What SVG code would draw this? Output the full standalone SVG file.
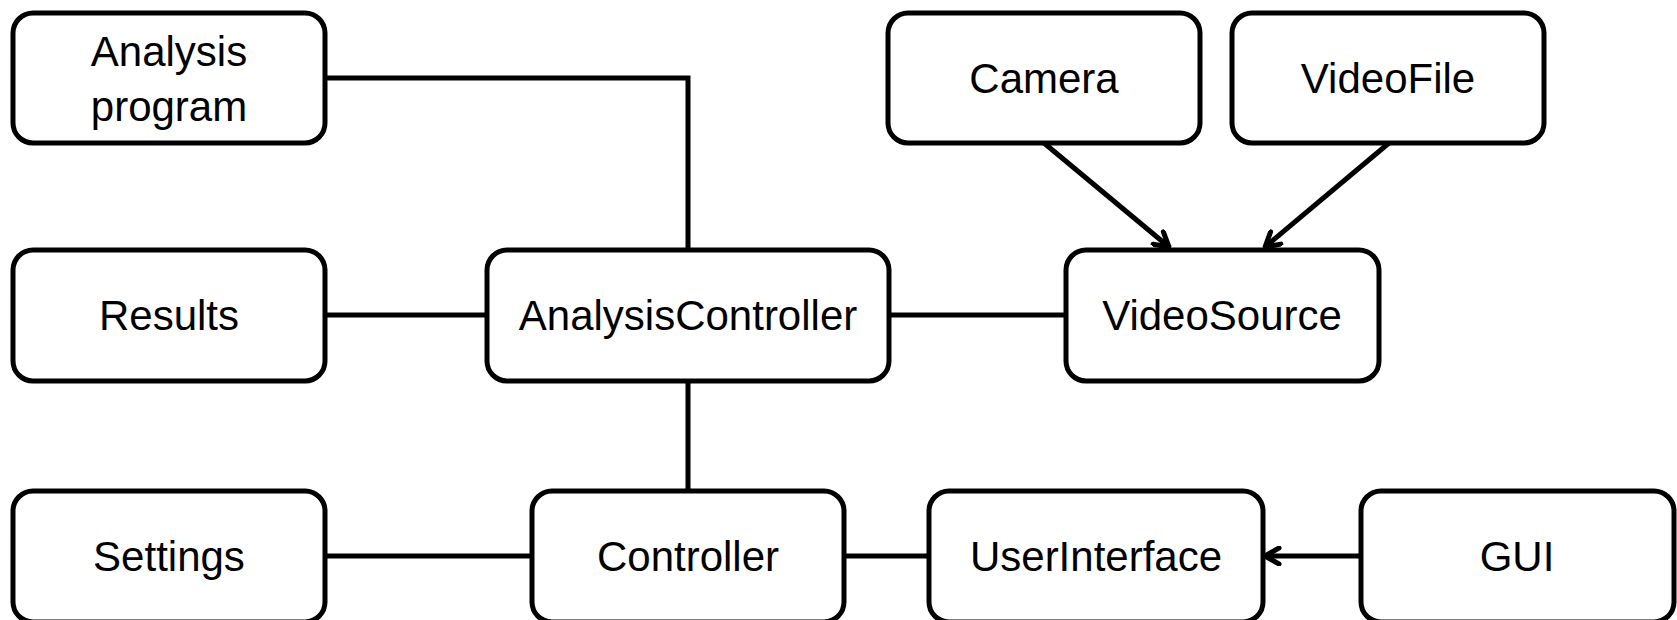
<svg xmlns="http://www.w3.org/2000/svg" width="1677" height="620" viewBox="0 0 1677 620">
<defs>
<style>
.box{fill:#fff;stroke:#000;stroke-width:5}
.lbl{font-family:"Liberation Sans",Arial,sans-serif;font-size:42px;fill:#000;text-anchor:middle}
.con{fill:none;stroke:#000;stroke-width:5}
</style>
<marker id="arr" viewBox="0 0 20 20" refX="18" refY="10" markerWidth="20" markerHeight="20" markerUnits="userSpaceOnUse" orient="auto">
<path d="M4,2 L18,10 L4,18" fill="none" stroke="#000" stroke-width="5" stroke-linecap="round" stroke-linejoin="round"/>
</marker>
</defs>
<rect width="1677" height="620" fill="#fff"/>
<g id="connectors">
<polyline class="con" points="325,78 688,78 688,250"/>
<line class="con" x1="325" y1="315" x2="487" y2="315"/>
<line class="con" x1="889" y1="315" x2="1066" y2="315"/>
<line class="con" x1="688" y1="381" x2="688" y2="491"/>
<line class="con" x1="325" y1="556" x2="532" y2="556"/>
<line class="con" x1="844" y1="556" x2="929" y2="556"/>
<line class="con" x1="1361" y1="556" x2="1265" y2="556" marker-end="url(#arr)"/>
<line class="con" x1="1044" y1="143" x2="1169" y2="247" marker-end="url(#arr)"/>
<line class="con" x1="1389" y1="143" x2="1265" y2="247" marker-end="url(#arr)"/>
</g>
<g id="analysis-program"><rect class="box" x="13" y="13" width="312" height="130" rx="20"/><text class="lbl" x="169" y="66">Analysis</text><text class="lbl" x="169" y="121">program</text></g>
<g id="camera"><rect class="box" x="888" y="13" width="312" height="130" rx="20"/><text class="lbl" x="1044" y="93">Camera</text></g>
<g id="videofile"><rect class="box" x="1232" y="13" width="312" height="130" rx="20"/><text class="lbl" x="1388" y="93">VideoFile</text></g>
<g id="results"><rect class="box" x="13" y="250" width="312" height="131" rx="20"/><text class="lbl" x="169" y="330">Results</text></g>
<g id="analysis-controller"><rect class="box" x="487" y="250" width="402" height="131" rx="20"/><text class="lbl" x="688" y="330">AnalysisController</text></g>
<g id="videosource"><rect class="box" x="1066" y="250" width="313" height="131" rx="20"/><text class="lbl" x="1222" y="330">VideoSource</text></g>
<g id="settings"><rect class="box" x="13" y="491" width="312" height="131" rx="20"/><text class="lbl" x="169" y="571">Settings</text></g>
<g id="controller"><rect class="box" x="532" y="491" width="312" height="131" rx="20"/><text class="lbl" x="688" y="571">Controller</text></g>
<g id="userinterface"><rect class="box" x="929" y="491" width="334" height="131" rx="20"/><text class="lbl" x="1096" y="571">UserInterface</text></g>
<g id="gui"><rect class="box" x="1361" y="491" width="313" height="131" rx="20"/><text class="lbl" x="1517" y="571">GUI</text></g>
</svg>
